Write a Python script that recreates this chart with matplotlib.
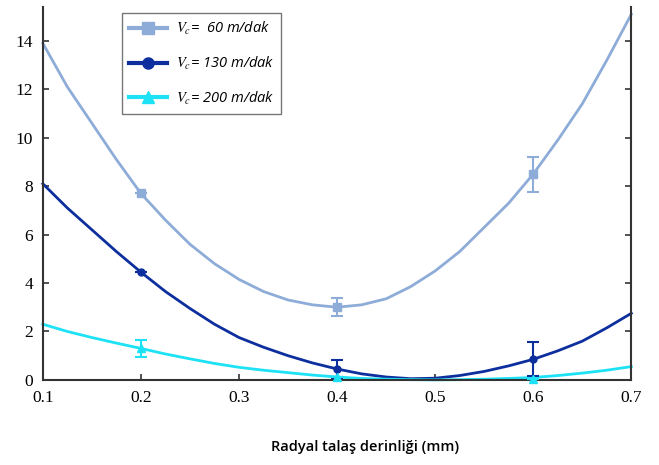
import matplotlib.pyplot as plt
from matplotlib.lines import Line2D

#--------------------------------------------#
                #DATA
#--------------------------------------------#

# fitted curves
x_fit = [0.1, 0.125, 0.15, 0.175, 0.2, 0.225, 0.25, 0.275, 0.3, 0.325, 0.35, 0.375, 0.4,
         0.425, 0.45, 0.475, 0.5, 0.525, 0.55, 0.575, 0.6, 0.625, 0.65, 0.675, 0.7]
y_fit_60 = [13.9, 12.1, 10.6, 9.1, 7.7, 6.6, 5.6, 4.8, 4.15, 3.65, 3.3, 3.1, 3.0,
            3.1, 3.35, 3.85, 4.5, 5.3, 6.3, 7.3, 8.5, 9.9, 11.4, 13.2, 15.1]
y_fit_130 = [8.1, 7.1, 6.2, 5.3, 4.45, 3.65, 2.95, 2.3, 1.75, 1.35, 1.0, 0.7, 0.45,
             0.25, 0.12, 0.05, 0.07, 0.18, 0.35, 0.58, 0.85, 1.2, 1.6, 2.15, 2.75]
y_fit_200 = [2.3, 2.0, 1.75, 1.52, 1.3, 1.07, 0.87, 0.68, 0.52, 0.4, 0.3, 0.2, 0.12,
             0.06, 0.03, 0.01, 0.0, 0.01, 0.03, 0.06, 0.1, 0.18, 0.28, 0.4, 0.55]

# measured points with error bars
x_pts = [0.2, 0.4, 0.6]
y_60 = [7.7, 3.0, 8.5]
e_60 = [0, 0.38, 0.72]
y_130 = [4.45, 0.45, 0.85]
e_130 = [0, 0.38, 0.7]
y_200 = [1.3, 0.1, 0.05]
e_200 = [0.35, 0, 0]

labels = ["$V_c$=  60 m/dak", "$V_c$= 130 m/dak", "$V_c$= 200 m/dak"]
colors = ["#8eacd8", "#0d2f9e", "#1de2f6"]
markers = ["s", "o", "^"]
xticks = [0.1, 0.2, 0.3, 0.4, 0.5, 0.6, 0.7]
yticks = [0, 2, 4, 6, 8, 10, 12, 14]

#--------------------------------------------#

plt.rcParams['mathtext.fontset'] = 'stix'

fig = plt.figure(figsize=(6.59, 4.65), dpi=100)
ax = fig.add_axes([0.065, 0.183, 0.893, 0.802])

fits = [y_fit_60, y_fit_130, y_fit_200]
pts = [y_60, y_130, y_200]
errs = [e_60, e_130, e_200]
msizes = [6, 5, 6]

for i in range(3):
    ax.plot(x_fit, fits[i], color=colors[i], lw=2, zorder=2, clip_on=False)
    ax.errorbar(x_pts, pts[i], yerr=errs[i], fmt=markers[i], color=colors[i],
                markersize=msizes[i], capsize=4, elinewidth=1.5, capthick=1.5,
                zorder=3, clip_on=False)

ax.set_xlim(0.1, 0.7)
ax.set_ylim(0, 15.4)
ax.set_xticks(xticks)
ax.set_yticks(yticks)
ax.set_xticklabels([str(t) for t in xticks], family="Liberation Serif", fontsize=12.5)
ax.set_yticklabels([str(t) for t in yticks], family="Liberation Serif", fontsize=12.5)
ax.tick_params(direction="in", length=4, width=1.2, color="#333333", right=True, pad=7)
ax.spines["top"].set_visible(False)
for s in ["left", "right", "bottom"]:
    ax.spines[s].set_linewidth(1.5)
    ax.spines[s].set_color("#333333")

handles = []
for i in range(3):
    handles.append(Line2D([0], [0], color=colors[i], lw=3, marker=markers[i], markersize=8))

leg = ax.legend(handles, labels, loc="upper left", bbox_to_anchor=(0.134, 0.984),
                borderaxespad=0, fancybox=False, handlelength=2.6, handletextpad=0.6,
                labelspacing=1.2, borderpad=0.5,
                prop={"family": "Open Sans", "style": "italic", "size": 10.5})
leg.get_frame().set_edgecolor("#555555")
leg.get_frame().set_linewidth(1)

fig.text(0.554, 0.039, "Radyal talaş derinliği (mm)", ha="center", va="center",
         family="Open Sans", fontweight="semibold", fontsize=10.5)

plt.savefig("out.png", dpi=100)
